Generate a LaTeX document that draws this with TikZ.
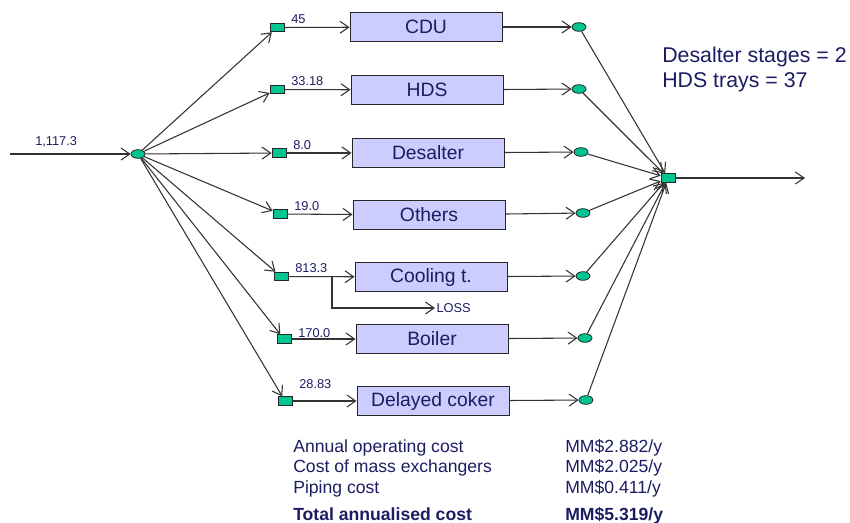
\documentclass[tikz,border=0pt]{standalone}
\usepackage{fontspec}
\setmainfont{Liberation Sans}
\usetikzlibrary{arrows.meta}
\definecolor{inkblue}{RGB}{28,28,98}
\definecolor{unitfill}{RGB}{204,204,255}
\definecolor{jointgreen}{RGB}{0,196,145}
\tikzset{
  flow/.style={draw=black!80, line width=0.8pt, -{Straight Barb[length=6.5pt,width=9pt]}},
  unitbox/.style={draw=black!85, fill=unitfill, line width=0.7pt, minimum width=114pt,
    minimum height=22pt, inner sep=0pt, text=inkblue, font=\fontsize{14.5}{16}\selectfont},
  mixbox/.style={draw=black!85, fill=jointgreen, line width=0.6pt, minimum width=10.5pt,
    minimum height=6.5pt, inner sep=0pt},
  splitdot/.style={draw=black!85, fill=jointgreen, ellipse, line width=0.6pt, minimum width=10.5pt,
    minimum height=6.5pt, inner sep=0pt},
  flowlabel/.style={text=inkblue, font=\fontsize{9.6}{11}\selectfont, inner sep=0pt, anchor=south west},
  costtext/.style={text=inkblue, font=\fontsize{13.2}{15}\selectfont, inner sep=0pt, anchor=base west}
}
\usetikzlibrary{shapes.geometric}
\begin{document}
\begin{tikzpicture}[x=0.75pt,y=-0.75pt]
  \useasboundingbox (0,0) rectangle (850,522);
  \path[coordinate] (10,154) coordinate(inlet)
                    (805,178) coordinate(outlet);
  \node[splitdot] (feed) at (138,154) {};
  \node[mixbox] (outmix) at (668,178) {};
  \draw[flow] (inlet) -- (feed);
  \node[flowlabel] (feedlabel) at (35,147) {1,117.3};
  \foreach \n/\mx/\my/\val/\ly/\unitname/\bx/\by/\sx/\sy in {%
      1/277/27.5/45/24/CDU/426/27/579/27,
      2/277/89.5/33.18/86/HDS/427/90/579/89,
      3/279/153/8.0/150/Desalter/428/153/581/152,
      4/280/214/19.0/211/Others/429/215/583/213,
      5/281/276.5/813.3/273/Cooling t./431/277/583/276,
      6/284/339/170.0/338/Boiler/432/339/585/338,
      7/285/401/28.83/389/Delayed coker/433/401/586/400}{%
    \node[mixbox] (mix\n) at (\mx,\my) {};
    \node[unitbox] (unit\n) at (\bx,\by) {\unitname};
    \node[splitdot] (split\n) at (\sx,\sy) {};
    \node[flowlabel] (val\n) at (\mx+14,\ly) {\val};
    \draw[flow] (feed) -- (mix\n);
    \draw[flow] (mix\n) -- (unit\n);
    \draw[flow] (unit\n) -- (split\n);
    \draw[flow] (split\n) -- (outmix);
  }
  \coordinate (lossfork) at (332,276.5);
  \node[text=inkblue, font=\fontsize{9.6}{11}\selectfont, inner sep=1pt, anchor=west] (loss) at (435,308) {LOSS};
  \draw[flow] (lossfork) |- (loss.west);
  \draw[flow] (outmix) -- (outlet);
  \node[text=inkblue, font=\fontsize{16}{18.75}\selectfont, inner sep=0pt, anchor=base west] (stages) at (662,62) {Desalter stages = 2};
  \node[text=inkblue, font=\fontsize{16}{18.75}\selectfont, inner sep=0pt, anchor=base west] (trays) at (662,87) {HDS trays = 37};
  \node[costtext] (opcost) at (293,452) {Annual operating cost};
  \node[costtext] (opval) at (565,452) {MM\$2.882/y};
  \node[costtext] (excost) at (293,472) {Cost of mass exchangers};
  \node[costtext] (exval) at (565,472) {MM\$2.025/y};
  \node[costtext] (pipecost) at (293,493) {Piping cost};
  \node[costtext] (pipeval) at (565,493) {MM\$0.411/y};
  \node[costtext, font=\fontsize{13.2}{15}\selectfont\bfseries] (total) at (293,520) {Total annualised cost};
  \node[costtext, font=\fontsize{13.2}{15}\selectfont\bfseries] (totalval) at (565,520) {MM\$5.319/y};
\end{tikzpicture}
\end{document}
